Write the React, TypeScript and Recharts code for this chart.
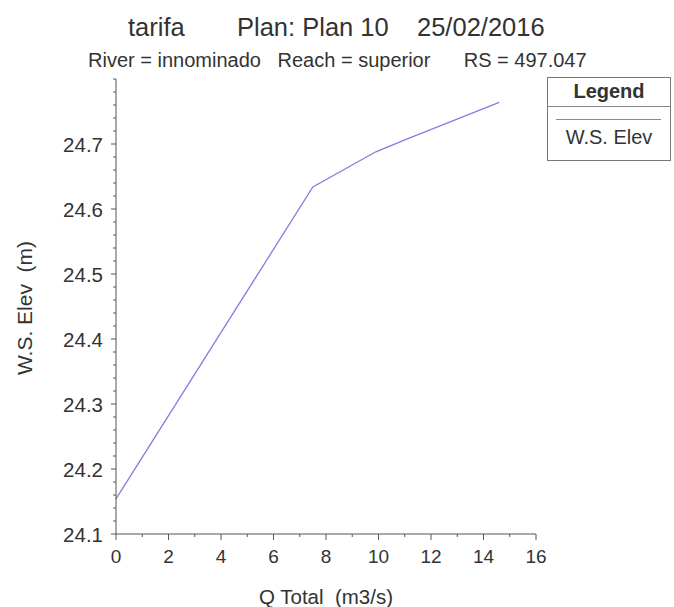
import React from 'react';
import { LineChart, Line, XAxis, YAxis, Legend } from 'recharts';

// values
const qTotal = [0, 7.5, 9.9, 11.05, 14.6];
const wsElev = [24.154, 24.634, 24.688, 24.707, 24.764];

const xMajor = [0, 2, 4, 6, 8, 10, 12, 14, 16];
const yMajor = [24.1, 24.2, 24.3, 24.4, 24.5, 24.6, 24.7];

const data = qTotal.map((q, i) => ({ q, ws: wsElev[i] }));

// minor ticks: every 1 on x, every 0.02 on y
const xTicks: number[] = [];
for (let i = 0; i <= 16; i++) xTicks.push(i);
const yTicks: number[] = [];
for (let i = 0; i <= 35; i++) yTicks.push(+(24.1 + i * 0.02).toFixed(2));

const FONT = '"Liberation Sans", Arial, sans-serif';
const INK = '#333';
const LINE = '#7f7fe0';

const isMajor = (v: number, list: number[]) => list.some((m) => Math.abs(m - v) < 1e-6);

const YTick = (props: any) => {
  const { x, y, payload } = props;
  const major = isMajor(payload.value, yMajor);
  return (
    <g>
      <line x1={x} x2={x - (major ? 5 : 3)} y1={y} y2={y} stroke="#555" />
      {major && (
        <text x={x - 13} y={y + 8} textAnchor="end" fontSize={20.5} fill={INK} fontFamily={FONT}>
          {payload.value.toFixed(1)}
        </text>
      )}
    </g>
  );
};

const XTick = (props: any) => {
  const { x, y, payload } = props;
  const major = isMajor(payload.value, xMajor);
  return (
    <g>
      <line x1={x} x2={x} y1={y} y2={y + (major ? 6 : 3)} stroke="#555" />
      {major && (
        <text x={x} y={y + 29} textAnchor="middle" fontSize={19} fill={INK} fontFamily={FONT}>
          {payload.value}
        </text>
      )}
    </g>
  );
};

const LegendBox = () => (
  <div
    style={{
      position: 'relative',
      width: 124,
      height: 84,
      border: '1px solid #777',
      boxSizing: 'border-box',
      background: '#fff',
      fontFamily: FONT,
      color: INK,
    }}
  >
    <div style={{ position: 'absolute', left: 0, right: 0, top: 3, textAlign: 'center', fontWeight: 'bold', fontSize: 20, lineHeight: '20px' }}>
      Legend
    </div>
    <div style={{ position: 'absolute', left: 0, right: 0, top: 28, borderTop: '1px solid #888' }} />
    <div style={{ position: 'absolute', left: 8, right: 9, top: 41, borderTop: `1px solid ${LINE}` }} />
    <div style={{ position: 'absolute', left: 0, right: 0, top: 49, textAlign: 'center', fontSize: 20, lineHeight: '20px' }}>
      W.S. Elev
    </div>
  </div>
);

const txt = (left: number, top: number, size: number, s: string) => (
  <div style={{ position: 'absolute', left, top, fontSize: size, lineHeight: `${size}px`, whiteSpace: 'pre' }}>{s}</div>
);

export default function App() {
  return (
    <div style={{ position: 'absolute', left: 0, top: 0, width: 674, height: 607, background: '#fff', fontFamily: FONT, color: INK, overflow: 'hidden' }}>
      {txt(128, 15, 25.5, 'tarifa')}
      {txt(237, 15, 25.5, 'Plan: Plan 10')}
      {txt(417, 15, 25.5, '25/02/2016')}
      {txt(88, 50, 20, 'River = innominado   Reach = superior      RS = 497.047')}
      <div
        style={{
          position: 'absolute',
          left: 24,
          top: 308,
          transform: 'translate(-50%, -50%) rotate(-90deg)',
          fontSize: 21,
          lineHeight: '21px',
          whiteSpace: 'pre',
        }}
      >
        {'W.S. Elev  (m)'}
      </div>
      <div style={{ position: 'absolute', left: 116, width: 420, top: 587, textAlign: 'center', fontSize: 20.5, lineHeight: '20.5px', whiteSpace: 'pre' }}>
        {'Q Total  (m3/s)'}
      </div>
      <LineChart width={674} height={607} data={data} margin={{ top: 79, right: 138, bottom: 43, left: 56 }}>
        <XAxis
          dataKey="q"
          type="number"
          domain={[0, 16]}
          ticks={xTicks}
          interval={0}
          height={30}
          tickSize={0}
          tickMargin={0}
          tick={<XTick />}
          axisLine={{ stroke: '#555' }}
        />
        <YAxis
          type="number"
          domain={[24.1, 24.8]}
          ticks={yTicks}
          interval={0}
          width={60}
          tickSize={0}
          tickMargin={0}
          tick={<YTick />}
          axisLine={{ stroke: '#555' }}
          allowDataOverflow
        />
        <Legend
          layout="vertical"
          align="center"
          verticalAlign="middle"
          content={<LegendBox />}
          wrapperStyle={{ position: 'absolute', left: 547, top: 77, width: 124 }}
        />
        <Line
          dataKey="ws"
          name="W.S. Elev"
          stroke={LINE}
          strokeWidth={1.3}
          dot={false}
          isAnimationActive={false}
        />
      </LineChart>
    </div>
  );
}
